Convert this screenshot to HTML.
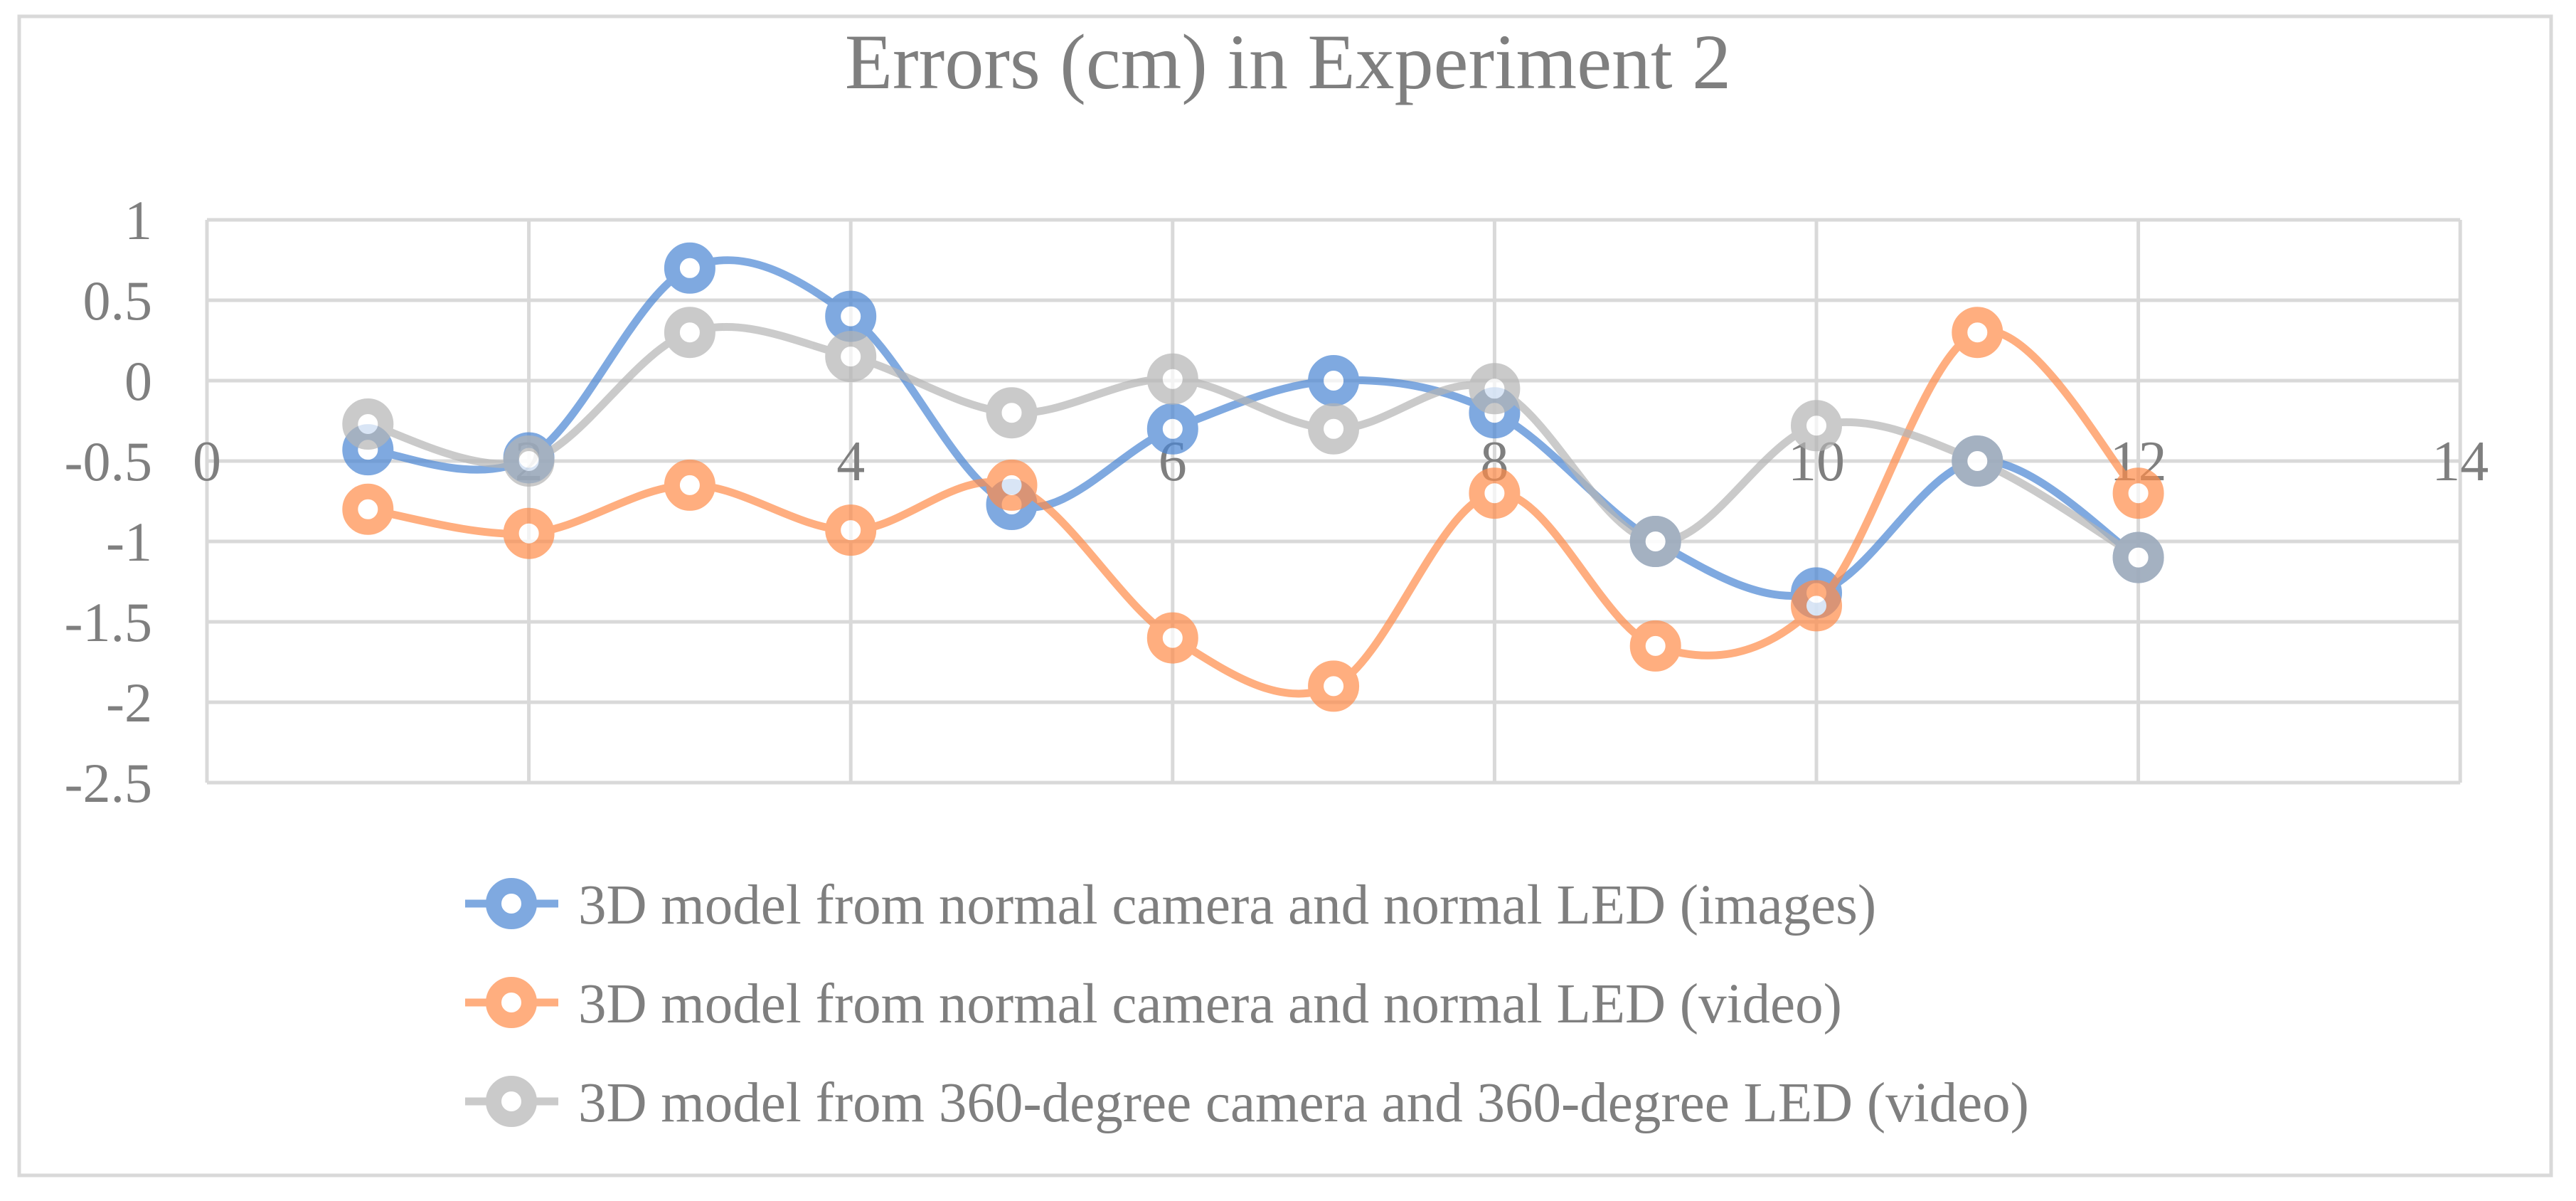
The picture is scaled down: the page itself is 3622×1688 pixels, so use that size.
<!DOCTYPE html>
<html><head><meta charset="utf-8"><style>
body{margin:0;background:#fff}
svg{display:block}
text{font-family:"Liberation Serif",serif;fill:#7f7f7f}
</style></head><body>
<svg width="3622" height="1688" viewBox="0 0 3622 1688">
<rect x="27" y="23" width="3560" height="1629" fill="#fff" stroke="#d9d9d9" stroke-width="5"/>
<text x="1811" y="124" font-size="110" text-anchor="middle">Errors (cm) in Experiment 2</text>
<g id="grid"></g>
<g id="ylab"></g>
<g id="xlab"></g>
<g id="series"></g>
<g id="legend"></g>
</svg>
<script>
const xs = [1,2,3,4,5,6,7,8,9,10,11,12];
const blueVals = [-0.43,-0.48,0.7,0.4,-0.77,-0.3,0,-0.2,-1,-1.32,-0.5,-1.1];
const orangeVals = [-0.8,-0.95,-0.65,-0.93,-0.65,-1.6,-1.9,-0.7,-1.65,-1.4,0.3,-0.7];
const grayVals = [-0.27,-0.5,0.3,0.15,-0.2,0.01,-0.3,-0.05,-1,-0.28,-0.5,-1.1];
const yTicks = [1,0.5,0,-0.5,-1,-1.5,-2,-2.5];
const yTickLabels = ["1","0.5","0","-0.5","-1","-1.5","-2","-2.5"];
const xTicks = [0,2,4,6,8,10,12,14];
const seriesNames = ["3D model from normal camera and normal LED (images)","3D model from normal camera and normal LED (video)","3D model from 360-degree camera and 360-degree LED (video)"];

const NS="http://www.w3.org/2000/svg";
const X0=291, XU=226.3, Y1=309, YU=226;
const sx=v=>X0+v*XU, sy=v=>Y1+(1-v)*YU;
function mk(tag,attrs,parent){const e=document.createElementNS(NS,tag);for(const k in attrs)e.setAttribute(k,attrs[k]);parent.appendChild(e);return e;}
const grid=document.getElementById('grid');
yTicks.forEach((t,i)=>{
  const l=mk('line',{x1:sx(0),x2:sx(14),y1:sy(t),y2:sy(t),stroke:'#d9d9d9','stroke-width':5},grid);
  
  
  const tx=mk('text',{x:214,y:sy(t)+27,'font-size':78,'text-anchor':'end'},document.getElementById('ylab'));
  tx.textContent=yTickLabels[i];
  
  
});
xTicks.forEach(t=>{
  const l=mk('line',{x1:sx(t),x2:sx(t),y1:sy(1),y2:sy(-2.5),stroke:'#d9d9d9','stroke-width':5},grid);
  
  
  const tx=mk('text',{x:sx(t),y:sy(-0.5)+27,'font-size':80,'text-anchor':'middle'},document.getElementById('xlab'));
  tx.textContent=String(t);
  
  
});
function smooth(pts){
  let d=`M${pts[0][0]},${pts[0][1]}`;
  for(let i=0;i<pts.length-1;i++){
    const p0=pts[i-1]||pts[i],p1=pts[i],p2=pts[i+1],p3=pts[i+2]||p2;
    const c1=[p1[0]+(p2[0]-p0[0])/6,p1[1]+(p2[1]-p0[1])/6];
    const c2=[p2[0]-(p3[0]-p1[0])/6,p2[1]-(p3[1]-p1[1])/6];
    d+=` C${c1[0]},${c1[1]} ${c2[0]},${c2[1]} ${p2[0]},${p2[1]}`;
  }
  return d;
}
const colors=['#4a86d4','#ff8c4a','#b5b5b5'];
const all=[blueVals,orangeVals,grayVals];
const sg=document.getElementById('series');
const keys=['blue','orange','gray'];
all.forEach((vals,si)=>{
  const g=mk('g',{opacity:0.7},sg);
  
  
  const pts=xs.map((x,i)=>[sx(x),sy(vals[i])]);
  const p=mk('path',{d:smooth(pts),fill:'none',stroke:colors[si],'stroke-width':11},g);
  
  
  pts.forEach(pt=>{
    const c=mk('circle',{cx:pt[0],cy:pt[1],r:25,fill:'#fff',stroke:colors[si],'stroke-width':22},g);
    
    
  });
});
const lg=document.getElementById('legend');
seriesNames.forEach((n,i)=>{
  const y=1270+i*139;
  const g=mk('g',{},lg);
  
  
  const gg=mk('g',{opacity:0.7},g);
  mk('line',{x1:654,x2:785,y1:y,y2:y,stroke:colors[i],'stroke-width':11},gg);
  mk('circle',{cx:719,cy:y,r:25,fill:'#fff',stroke:colors[i],'stroke-width':22},gg);
  const t=mk('text',{x:813,y:y+28,'font-size':79},g);
  t.textContent=n;
  
  
});
</script>
</body></html>
